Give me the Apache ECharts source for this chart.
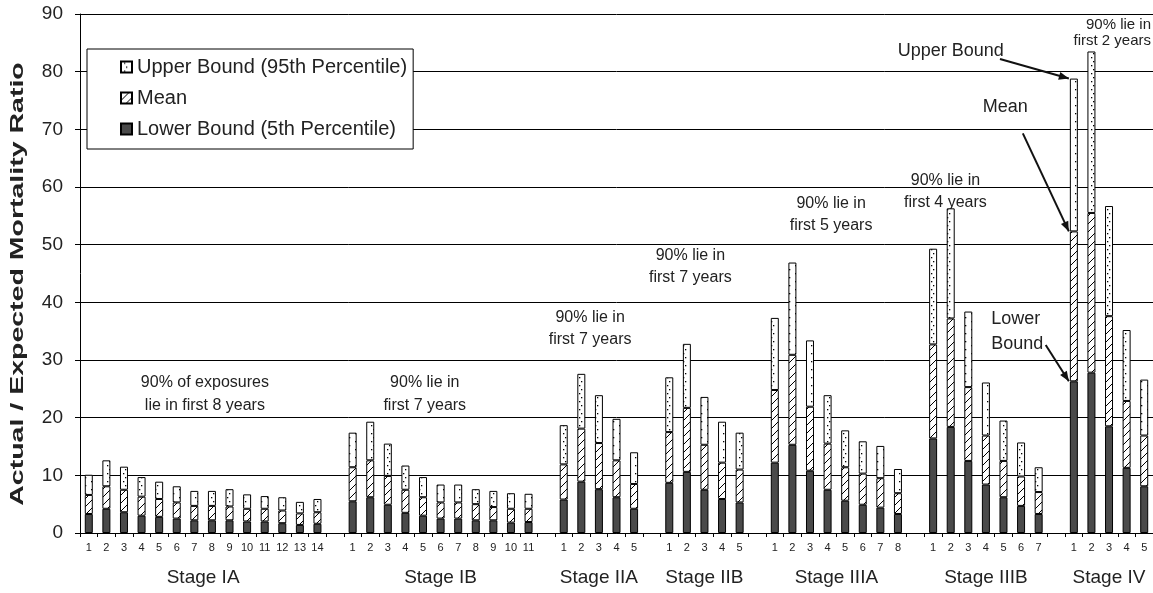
<!DOCTYPE html>
<html>
<head>
<meta charset="utf-8">
<script src="https://cdn.jsdelivr.net/npm/echarts@6/dist/echarts.min.js"></script>
<style>
html,body{margin:0;padding:0;background:#fff}
#main{width:1153px;height:593px}
</style>
</head>
<body>
<div id="main"></div>
<script>
var stageNames=['Stage IA','Stage IB','Stage IIA','Stage IIB','Stage IIIA','Stage IIIB','Stage IV']
var lowerBound=[
    [3.3,4.2,3.6,3.0,2.8,2.5,2.2,2.2,2.2,2.0,2.0,1.7,1.4,1.6],
    [5.5,6.2,4.9,3.5,3.0,2.5,2.5,2.2,2.2,1.8,1.9],
    [5.8,8.9,7.6,6.2,4.2],
    [8.7,10.6,7.5,5.9,5.3],
    [12.2,15.3,10.8,7.5,5.6,4.9,4.4,3.3],
    [16.4,18.4,12.5,8.4,6.2,4.7,3.3],
    [26.3,27.8,18.5,11.3,8.1]
]
var meanRatio=[
    [6.6,8.1,7.5,6.3,5.9,5.3,4.7,4.7,4.6,4.2,4.2,3.9,3.4,3.6],
    [11.4,12.6,9.9,7.5,6.2,5.3,5.3,5.0,4.5,4.2,4.2],
    [11.9,18.1,15.6,12.6,8.5],
    [17.5,21.7,15.3,12.2,11.0],
    [24.8,30.9,21.9,15.5,11.4,10.3,9.5,6.9],
    [32.7,37.2,25.3,16.9,12.5,9.8,7.1],
    [52.3,55.5,37.6,22.9,16.9]
]
var upperBound=[
    [10.1,12.6,11.5,9.7,8.9,8.1,7.3,7.3,7.6,6.7,6.4,6.2,5.4,5.9],
    [17.4,19.3,15.5,11.7,9.7,8.4,8.4,7.6,7.3,6.9,6.8],
    [18.7,27.6,23.9,19.8,14.0],
    [27.0,32.8,23.6,19.3,17.4],
    [37.3,46.9,33.4,23.9,17.8,15.9,15.1,11.1],
    [49.3,56.3,38.4,26.1,19.5,15.7,11.4],
    [78.8,83.5,56.7,35.2,26.6]
]
var notes=[
    '90% of exposures\nlie in first 8 years',
    '90% lie in\nfirst 7 years',
    '90% lie in\nfirst 7 years',
    '90% lie in\nfirst 7 years',
    '90% lie in\nfirst 5 years',
    '90% lie in\nfirst 4 years',
    '90% lie in\nfirst 2 years'
]

var FONT='Liberation Sans, Arial, sans-serif'

// build the category slots, one empty slot between stages
var cats=[], lowData=[], midData=[], topData=[], groupRange=[]
stageNames.forEach(function(s,gi){
    var start=cats.length
    lowerBound[gi].forEach(function(v,j){
        cats.push(s+'|'+(j+1))
        lowData.push(v)
        midData.push(+(meanRatio[gi][j]-v).toFixed(2))
        topData.push(+(upperBound[gi][j]-meanRatio[gi][j]).toFixed(2))
    })
    groupRange.push([start,cats.length-1])
    if(gi<stageNames.length-1){
        cats.push('gap|'+gi)
        lowData.push('-');midData.push('-');topData.push('-')
    }
})

function pattern(kind){
    var c=document.createElement('canvas')
    c.width=8;c.height=8
    var g=c.getContext('2d')
    g.fillStyle='#fff';g.fillRect(0,0,8,8)
    g.fillStyle='#000';g.strokeStyle='#000';g.lineWidth=1
    if(kind=='dots'){
        g.fillRect(3,1,1.3,1.3)
        g.fillRect(5,5,1.3,1.3)
    }else{
        g.beginPath()
        g.moveTo(-1,9);g.lineTo(9,-1)
        g.stroke()
    }
    return {image:c,repeat:'repeat'}
}

var myChart=echarts.init(document.getElementById('main'))
var option={
    backgroundColor:'#fff',
    animation:false,
    textStyle:{fontFamily:FONT},
    grid:{left:80,right:0,top:14,bottom:60},
    legend:{
        orient:'vertical',
        left:87,top:49,
        padding:[8,6,10,33],
        itemGap:11,
        itemWidth:11,itemHeight:11,
        icon:'rect',
        backgroundColor:'#fff',
        borderColor:'#000',borderWidth:1,
        textStyle:{fontSize:20,color:'#222',fontFamily:FONT},
        data:['Upper Bound (95th Percentile)','Mean','Lower Bound (5th Percentile)']
    },
    xAxis:{
        type:'category',
        data:cats,
        axisLine:{lineStyle:{color:'#000',width:1}},
        axisTick:{show:true,interval:0,length:4,lineStyle:{color:'#000'}},
        axisLabel:{
            interval:0,fontSize:11,color:'#222',margin:9,
            formatter:function(v){return v.indexOf('gap')==0?'':v.split('|')[1]}
        }
    },
    yAxis:{
        type:'value',
        min:0,max:90,interval:10,
        axisLine:{show:true,lineStyle:{color:'#000'}},
        axisTick:{show:true,length:5,lineStyle:{color:'#000'}},
        axisLabel:{fontSize:19,color:'#222',margin:17},
        splitLine:{lineStyle:{color:'#000',width:1}}
    },
    series:[
        {
            name:'Lower Bound (5th Percentile)',type:'bar',stack:'b',barWidth:8,
            itemStyle:{color:'#4a4a4a',borderColor:'#000',borderWidth:1},
            data:lowData
        },
        {
            name:'Mean',type:'bar',stack:'b',barWidth:8,
            itemStyle:{color:pattern('hatch'),borderColor:'#000',borderWidth:1},
            data:midData
        },
        {
            name:'Upper Bound (95th Percentile)',type:'bar',stack:'b',barWidth:8,
            itemStyle:{color:pattern('dots'),borderColor:'#000',borderWidth:1},
            data:topData
        }
    ]
}
myChart.setOption(option)

// text and arrows placed in axis terms
var px0=myChart.convertToPixel({xAxisIndex:0},0)
var slot=myChart.convertToPixel({xAxisIndex:0},1)-px0
function xAt(f){return px0+f*slot}
function yAt(v){return myChart.convertToPixel({yAxisIndex:0},v)}

var els=[]
function txt(s,x,y,size,align,lh){
    els.push({type:'text',x:x,y:y,silent:true,style:{
        text:s,fill:'#222',font:size+'px '+FONT,
        textAlign:align||'center',textVerticalAlign:'middle',lineHeight:lh||size*1.4
    }})
}
function arrow(xa,ya,xb,yb){
    els.push({type:'line',silent:true,shape:{x1:xa,y1:ya,x2:xb,y2:yb},style:{stroke:'#111',lineWidth:2}})
    var a=Math.atan2(yb-ya,xb-xa),L=10,W=4
    var bx=xb-L*Math.cos(a),by=yb-L*Math.sin(a)
    els.push({type:'polygon',silent:true,shape:{points:[
        [xb,yb],[bx+W*Math.sin(a),by-W*Math.cos(a)],[bx-W*Math.sin(a),by+W*Math.cos(a)]
    ]},style:{fill:'#111'}})
}

// y axis title, drawn stretched along its length like the original
els.push({type:'text',x:18,y:284,rotation:Math.PI/2,scaleX:1.5,silent:true,style:{
    text:'Actual / Expected Mortality Ratio',fill:'#222',font:'bold 19px '+FONT,
    textAlign:'center',textVerticalAlign:'middle'
}})

groupRange.forEach(function(r,i){
    txt(stageNames[i],xAt((r[0]+r[1])/2),578,19)
})

var notePos=[[6.6,24.1],[19.1,24.1],[28.5,35.4],[34.2,46.2],[42.2,55.2],[48.7,59.2]]
notePos.forEach(function(p,i){ txt(notes[i],xAt(p[0]),yAt(p[1]),16) })
txt(notes[6],1151,yAt(86.7),15,'right',16)

var iv=groupRange[6][0]
var barL=myChart.convertToPixel({xAxisIndex:0},iv)-5
txt('Upper Bound',xAt(49.0),yAt(83.6),18)
txt('Mean',xAt(52.1),yAt(73.9),18)
txt('Lower\nBound',xAt(51.3),yAt(34.9),18,'left')
arrow(xAt(51.8),yAt(82.2),barL,yAt(upperBound[6][0]))
arrow(xAt(53.1),yAt(69.3),barL,yAt(meanRatio[6][0]))
arrow(xAt(54.4),yAt(32.6),barL,yAt(lowerBound[6][0]))

myChart.setOption({graphic:{elements:els}})
</script>
</body>
</html>
